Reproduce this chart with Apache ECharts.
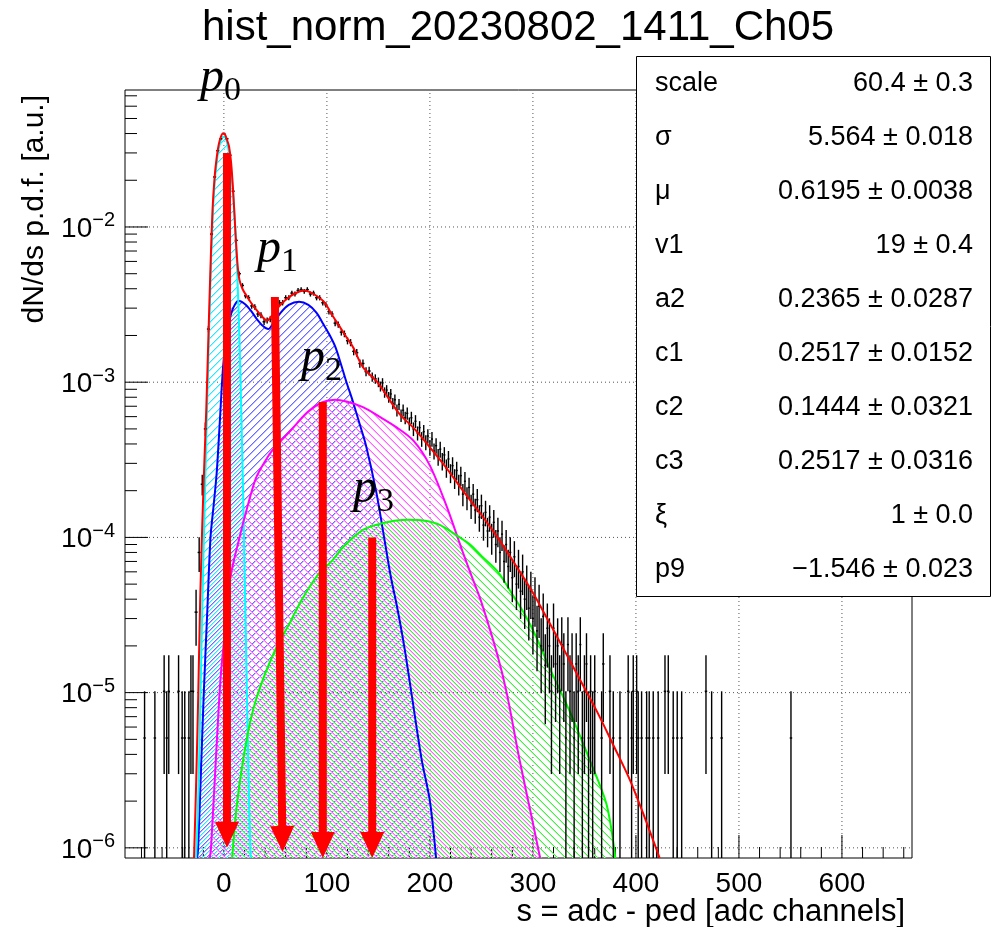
<!DOCTYPE html>
<html>
<head>
<meta charset="utf-8">
<title>hist_norm_20230802_1411_Ch05</title>
<script src="https://cdn.jsdelivr.net/npm/echarts@6/dist/echarts.min.js"></script>
<style>
html,body{margin:0;padding:0;background:#fff;}
#main{width:999px;height:927px;}
</style>
</head>
<body>
<div id="main"></div>
<script>
// axis ranges and ticks
var xMin = -96, xMax = 668;
var yMin = 8.6e-7, yMax = 0.0763;
var xMajor = [0, 100, 200, 300, 400, 500, 600];
var xMinor = [-80, -60, -40, -20, 20, 40, 60, 80, 120, 140, 160, 180, 220, 240, 260, 280, 320, 340, 360, 380,
              420, 440, 460, 480, 520, 540, 560, 580, 620, 640, 660];
var yMajor = [1e-6, 1e-5, 1e-4, 1e-3, 1e-2];
var yMinor = [2e-6, 3e-6, 4e-6, 5e-6, 6e-6, 7e-6, 8e-6, 9e-6,
              2e-5, 3e-5, 4e-5, 5e-5, 6e-5, 7e-5, 8e-5, 9e-5,
              2e-4, 3e-4, 4e-4, 5e-4, 6e-4, 7e-4, 8e-4, 9e-4,
              2e-3, 3e-3, 4e-3, 5e-3, 6e-3, 7e-3, 8e-3, 9e-3,
              2e-2, 3e-2, 4e-2, 5e-2, 6e-2, 7e-2];

// fit components [s, value]
var p0Curve = [[-27,8.6e-7],[-25,2e-6],[-23,8e-6],[-21,3.5e-5],[-19,1.3e-4],[-17,4.5e-4],[-15,1.5e-3],[-13,4.5e-3],
  [-11,1.1e-2],[-9,1.9e-2],[-7,2.6e-2],[-5,3.2e-2],[-3,3.6e-2],[-1,3.8e-2],[1,3.8e-2],[3,3.5e-2],[5,3e-2],[7,2.3e-2],
  [9,1.6e-2],[11,1e-2],[13,5e-3],[15,2e-3],[17,6e-4],[19,1.5e-4],[21,3e-5],[23,6e-6],[25,1.4e-6],[26,8.6e-7]];
var p1Curve = [[-26,8.6e-7],[-25,1e-6],[-22,3.5e-6],[-19.5,1e-5],[-16,3.5e-5],[-13,1e-4],[-10,1.6e-4],[-7,2.6e-4],
  [-4,5.5e-4],[-1,1.2e-3],[2,1.9e-3],[5,2.45e-3],[9,3.0e-3],[14,3.35e-3],[20,3.2e-3],[26,2.9e-3],[32,2.55e-3],
  [38,2.3e-3],[43,2.2e-3],[48,2.4e-3],[55,2.8e-3],[63,3.15e-3],[73,3.3e-3],[82,3.15e-3],[90,2.8e-3],[96,2.4e-3],
  [102,2.05e-3],[108,1.7e-3],[113,1.35e-3],[119,1.0e-3],[125,7.6e-4],[131,5.6e-4],[138,3.9e-4],[148,1.95e-4],
  [155,1.05e-4],[162,5.6e-5],[168,3.6e-5],[175,2e-5],[182,1e-5],[192,3.7e-6],[200,2e-6],[206,8.6e-7]];
var p2Curve = [[-13.6,8.6e-7],[-12.5,1e-6],[-8,3.5e-6],[-3,1.3e-5],[2,2.8e-5],[6.5,5.6e-5],[14.5,9.6e-5],[22,1.5e-4],
  [31,2.4e-4],[40,3.1e-4],[48,3.7e-4],[65,4.9e-4],[81,6.4e-4],[95,7.4e-4],[108,7.7e-4],[119,7.5e-4],[135,6.9e-4],
  [151,6e-4],[168,5.1e-4],[184,4.2e-4],[200,2.9e-4],[216,1.6e-4],[232,8e-5],[242,5.3e-5],[249,4e-5],[265,1.8e-5],
  [274.5,1e-5],[287,3.7e-6],[299,1.55e-6],[307,8.6e-7]];
var p3Curve = [[8,8.6e-7],[13,2e-6],[22.6,5.2e-6],[32,9.4e-6],[48.5,1.8e-5],[65,2.9e-5],[74,3.8e-5],[90,5.6e-5],
  [106,7.2e-5],[116,8.7e-5],[135,1.12e-4],[155,1.24e-4],[178,1.3e-4],[195,1.28e-4],[210,1.2e-4],[229,1.0e-4],
  [239,9e-5],[250,7.6e-5],[266,6e-5],[280,4.3e-5],[292,3.2e-5],[303,2.3e-5],[316,1.45e-5],[329,9.5e-6],
  [336,7.5e-6],[355,3.7e-6],[371.5,1.9e-6],[380,8.6e-7]];
var fitCurve = [[-29,8.6e-7],[-27,2.5e-6],[-25,9e-6],[-23,4e-5],[-21,1.2e-4],[-19,3e-4],[-17,7e-4],[-15,2e-3],
  [-13,5.5e-3],[-11,1.3e-2],[-9,2.1e-2],[-7,2.8e-2],[-5,3.4e-2],[-3,3.8e-2],[-1,4.0e-2],[1,3.95e-2],[3,3.65e-2],
  [5,3.3e-2],[7,2.6e-2],[9,1.7e-2],[11,9.8e-3],[13,6e-3],[15,4.6e-3],[18,4.0e-3],[22,3.6e-3],[27,3.2e-3],
  [32,2.9e-3],[37,2.65e-3],[42,2.5e-3],[47,2.7e-3],[52,3e-3],[60,3.4e-3],[68,3.7e-3],[78,3.9e-3],[87,3.7e-3],
  [97,3.3e-3],[106,2.65e-3],[113,2.25e-3],[119,1.95e-3],[125,1.7e-3],[135,1.25e-3],[150,9.8e-4],[170,6.3e-4],
  [185,5e-4],[200,3.8e-4],[216,2.8e-4],[232,2e-4],[250,1.4e-4],[268,9.5e-5],[284,6.5e-5],[300,4.4e-5],
  [315,2.9e-5],[330,1.9e-5],[346,1.2e-5],[362,7.6e-6],[378,4.6e-6],[394,2.75e-6],[408,1.6e-6],[423,8.6e-7]];

// histogram, core: bin centres from coreStart every coreStep
var coreStart = -27, coreStep = 3;
var coreVals = [
  3.3e-5, 8e-5, 2.2e-4, 5e-4, 2.2e-3, 9e-3, 2.1e-2, 3.1e-2, 3.7e-2, 4.0e-2,
  3.7e-2, 2.9e-2, 1.7e-2, 8.2e-3, 5e-3, 4.2e-3, 3.6e-3, 3.5e-3, 3.1e-3, 3.05e-3,
  2.75e-3, 2.7e-3, 2.45e-3, 2.5e-3, 2.55e-3, 2.8e-3, 2.95e-3, 3.25e-3, 3.25e-3, 3.5e-3,
  3.5e-3, 3.75e-3, 3.7e-3, 3.9e-3, 3.95e-3, 3.85e-3, 3.95e-3, 3.7e-3, 3.75e-3, 3.5e-3,
  3.5e-3, 3.25e-3, 3.15e-3, 2.85e-3, 2.75e-3, 2.4e-3, 2.35e-3, 2.1e-3, 2.05e-3, 1.85e-3,
  1.8e-3, 1.58e-3, 1.55e-3, 1.32e-3, 1.32e-3, 1.17e-3, 1.18e-3, 1.08e-3, 1.05e-3];
// histogram, tail: bin centres from tailStart every tailStep
var tailStart = 150, tailStep = 2;
var tailVals = [
  1.0e-3, 9.4e-4, 9.9e-4, 8.6e-4, 8.9e-4, 8.0e-4, 8.4e-4, 7.3e-4, 7.7e-4, 6.6e-4,
  7.2e-4, 6.1e-4, 6.6e-4, 5.9e-4, 6.3e-4, 5.4e-4, 5.9e-4, 5.0e-4, 5.6e-4, 4.7e-4,
  5.1e-4, 4.3e-4, 4.8e-4, 4.1e-4, 4.5e-4, 3.8e-4, 4.3e-4, 3.6e-4, 3.9e-4, 3.3e-4,
  3.7e-4, 3.1e-4, 3.4e-4, 2.8e-4, 3.2e-4, 2.6e-4, 2.9e-4, 2.4e-4, 2.7e-4, 2.2e-4,
  2.5e-4, 1.9e-4, 2.3e-4, 1.8e-4, 2.1e-4, 1.6e-4, 1.9e-4, 1.5e-4, 1.75e-4, 1.35e-4,
  1.6e-4, 1.2e-4, 1.45e-4, 1.1e-4, 1.35e-4, 1.0e-4, 1.25e-4, 9e-5, 1.1e-4, 8e-5,
  1.05e-4, 7e-5, 9e-5, 6.5e-5, 8e-5, 5.5e-5, 7.5e-5, 5e-5, 6.5e-5, 4.5e-5,
  6e-5, 4e-5, 5e-5, 3.5e-5, 4.5e-5, 3e-5, 4.1e-5, 2.5e-5, 3.6e-5, 2e-5,
  3.1e-5, 1.5e-5, 2.6e-5, 2e-5, 1.02e-5, 2.6e-5, 1.53e-5, 2e-5, 1.02e-5, 2.04e-5,
  1.53e-5, 5.1e-6, 2.04e-5, 1.02e-5, 1.53e-5, 5.1e-6, 1.53e-5, 1.02e-5, 2.04e-5, 5.1e-6,
  1.02e-5, 1.53e-5, 5.1e-6, 1.02e-5, 5.1e-6, 1.02e-5];
// histogram, single low-count bins
var sparseX = [-77, -67, -58, -55.5, -53.5, -44, -40.5, -38, -34, -32, -30,
  366.7, 368.3, 374.8, 378, 384.5, 392.5, 395.8, 397.4, 400.7, 402.2, 405.5, 410.4, 412.9, 416.8,
  421.6, 428.2, 431.4, 436.2, 440.1, 444.4, 468, 473.5, 483.2, 550.5];
var sparseV = [5.1e-6, 5.1e-6, 1.02e-5, 5.1e-6, 1.02e-5, 1.02e-5, 5.1e-6, 5.1e-6, 5.1e-6, 1.02e-5, 1.02e-5,
  5.1e-6, 1.53e-5, 1.02e-5, 5.1e-6, 5.1e-6, 1.02e-5, 5.1e-6, 1.02e-5, 1.02e-5, 5.1e-6, 5.1e-6, 5.1e-6, 5.1e-6, 5.1e-6,
  5.1e-6, 1.02e-5, 1.02e-5, 5.1e-6, 5.1e-6, 5.1e-6, 1.02e-5, 5.1e-6, 5.1e-6, 5.1e-6];
var countUnit = 5.1e-6; // one entry

// red arrows: top x, top y, tip x, tip y
var arrowTopX = [3, 49.5, 96, 144];
var arrowTopY = [0.030, 3.54e-3, 7.45e-4, 1.0e-4];
var arrowTipX = [3, 57, 96, 144];
var arrowTipY = [1.0e-6, 9.4e-7, 8.6e-7, 8.6e-7];

// fit parameters
var statNames = ['scale', '\u03c3', '\u03bc', 'v1', 'a2', 'c1', 'c2', 'c3', '\u03be', 'p9'];
var statValues = ['60.4 \u00b1 0.3', '5.564 \u00b1 0.018', '0.6195 \u00b1 0.0038', '19 \u00b1 0.4',
  '0.2365 \u00b1 0.0287', '0.2517 \u00b1 0.0152', '0.1444 \u00b1 0.0321', '0.2517 \u00b1 0.0316',
  '1 \u00b1 0.0', '\u22121.546 \u00b1 0.023'];

var FONT = "'Liberation Sans', Arial, Helvetica, sans-serif";
var SERIF = "'Liberation Serif', 'DejaVu Serif', serif";

// hatch pattern: 2px diagonal (core + soft edge), shift moves the line inside the tile
function hatch(core, edge, dir, shift){
    var n = 8;
    var c = document.createElement('canvas');
    c.width = n; c.height = n;
    var g = c.getContext('2d');
    for(var i = 0; i < n; i++){
        var j = dir == '/' ? (2*n - 1 - i - shift) % n : (i + shift) % n;
        g.fillStyle = core;
        g.fillRect(i, j, 1, 1);
        g.fillStyle = edge;
        g.fillRect(i, (j + 1) % n, 1, 1);
    }
    return c;
}

// [x, value, half width of bin mark]
var histData = coreVals.map(function(v, i){ return [coreStart + i*coreStep, v, 1.5]; });
tailVals.forEach(function(v, i){ histData.push([tailStart + i*tailStep, v, 1]); });
sparseX.forEach(function(x, i){ histData.push([x, sparseV[i], 1.2]); });

function renderHist(params, api){
    var x = api.value(0), v = api.value(1), hw = api.value(2);
    var err = Math.sqrt(v*countUnit);
    var lo = Math.max(v - err, yMin), hi = Math.min(v + err, yMax);
    var a = api.coord([x, lo]), b = api.coord([x, hi]);
    var l = api.coord([x - hw, v]), r = api.coord([x + hw, v]);
    return {type: 'group', children: [
        {type: 'line', shape: {x1: a[0], y1: a[1], x2: b[0], y2: b[1]}, style: {stroke: '#000', lineWidth: 1.4}},
        {type: 'line', shape: {x1: l[0], y1: l[1], x2: r[0], y2: r[1]}, style: {stroke: '#000', lineWidth: 1.4}}
    ]};
}

function renderArrow(params, api){
    var t = api.coord([api.value(0), api.value(1)]);
    var b = api.coord([api.value(2), api.value(3)]);
    var dx = b[0]-t[0], dy = b[1]-t[1], L = Math.sqrt(dx*dx + dy*dy);
    var ux = dx/L, uy = dy/L, nx = -uy, ny = ux;
    var hl = 26, hw = 12, sw = 4;
    var sx = b[0]-ux*hl, sy = b[1]-uy*hl;
    var pts = [[t[0]+nx*sw, t[1]+ny*sw], [sx+nx*sw, sy+ny*sw], [sx+nx*hw, sy+ny*hw], [b[0], b[1]],
               [sx-nx*hw, sy-ny*hw], [sx-nx*sw, sy-ny*sw], [t[0]-nx*sw, t[1]-ny*sw]];
    return {type: 'polygon', shape: {points: pts}, style: {fill: '#ff0000'}};
}

// dotted grid and ROOT style ticks, kind: 0 vgrid, 1 hgrid, 2 x major, 3 x minor, 4 y major, 5 y minor
var decoData = [];
xMajor.forEach(function(x){ decoData.push([x, yMin, 0]); decoData.push([x, yMin, 2]); });
yMajor.forEach(function(y){ decoData.push([xMin, y, 1]); decoData.push([xMin, y, 4]); });
xMinor.forEach(function(x){ decoData.push([x, yMin, 3]); });
yMinor.forEach(function(y){ decoData.push([xMin, y, 5]); });

function renderDeco(params, api){
    var k = api.value(2);
    var p = api.coord([api.value(0), api.value(1)]);
    if(k == 0){
        var q = api.coord([api.value(0), yMax]);
        return {type: 'line', shape: {x1: p[0], y1: p[1], x2: q[0], y2: q[1]}, style: {stroke: '#555', lineWidth: 1, lineDash: [1, 3]}};
    }
    if(k == 1){
        var q2 = api.coord([xMax, api.value(1)]);
        return {type: 'line', shape: {x1: p[0], y1: p[1], x2: q2[0], y2: q2[1]}, style: {stroke: '#555', lineWidth: 1, lineDash: [1, 3]}};
    }
    if(k == 2 || k == 3){
        var len = k == 2 ? 23 : 11;
        return {type: 'line', shape: {x1: p[0], y1: p[1], x2: p[0], y2: p[1]-len}, style: {stroke: '#000', lineWidth: 1}};
    }
    var len2 = k == 4 ? 23 : 12;
    return {type: 'line', shape: {x1: p[0], y1: p[1], x2: p[0]+len2, y2: p[1]}, style: {stroke: '#000', lineWidth: 1}};
}

function compSeries(name, data, lineColor, core, edge, dir, shift){
    return {
        name: name, type: 'line', data: data, smooth: 0.3, symbol: 'none', z: 2,
        lineStyle: {color: lineColor, width: 2},
        areaStyle: {origin: 'start', color: {image: hatch(core, edge, dir, shift), repeat: 'repeat'}, opacity: 1}
    };
}

var graphics = [
    {type: 'text', x: 518, y: 28, z: 100, style: {text: 'hist_norm_20230802_1411_Ch05', font: '42px ' + FONT, fill: '#000', align: 'center', verticalAlign: 'middle'}},
    {type: 'text', x: 905, y: 912, z: 100, style: {text: 's = adc - ped [adc channels]', font: '31px ' + FONT, fill: '#000', align: 'right', verticalAlign: 'middle'}},
    {type: 'text', x: 35, y: 95, rotation: Math.PI/2, z: 100, style: {text: 'dN/ds p.d.f. [a.u.]', font: '30px ' + FONT, fill: '#000', align: 'right', verticalAlign: 'middle'}},
    {type: 'rect', z: 100, shape: {x: 636.5, y: 56.5, width: 354, height: 540}, style: {fill: '#fff', stroke: '#000', lineWidth: 1}}
];
statNames.forEach(function(n, i){
    var yc = 56 + 54.1*(i + 0.5);
    graphics.push({type: 'text', x: 655, y: yc, z: 101, style: {text: n, font: '27px ' + FONT, fill: '#000', align: 'left', verticalAlign: 'middle'}});
    graphics.push({type: 'text', x: 973, y: yc, z: 101, style: {text: statValues[i], font: '27px ' + FONT, fill: '#000', align: 'right', verticalAlign: 'middle'}});
});
// peak labels p0..p3
var pLabelX = [200, 257, 301, 353];
var pLabelY = [78, 249, 358, 489];
pLabelX.forEach(function(x, i){
    graphics.push({type: 'text', x: x, y: pLabelY[i], z: 60, style: {text: 'p', font: 'italic 48px ' + SERIF, fill: '#000', align: 'left', verticalAlign: 'middle'}});
    graphics.push({type: 'text', x: x + 24, y: pLabelY[i] + 13, z: 60, style: {text: String(i), font: '34px ' + SERIF, fill: '#000', align: 'left', verticalAlign: 'middle'}});
});

var myChart = echarts.init(document.getElementById('main'));
var option = {
    animation: false,
    backgroundColor: '#fff',
    grid: {left: 125, right: 87, top: 90, bottom: 69, show: true, borderColor: '#000', borderWidth: 1, backgroundColor: 'transparent'},
    xAxis: {
        type: 'value', min: xMin, max: xMax,
        axisLine: {show: false}, axisTick: {show: false}, splitLine: {show: false},
        axisLabel: {customValues: xMajor, color: '#000', fontSize: 28, fontFamily: FONT, margin: 12}
    },
    yAxis: {
        type: 'log', logBase: 10, min: yMin, max: yMax,
        axisLine: {show: false}, axisTick: {show: false}, splitLine: {show: false}, minorTick: {show: false},
        axisLabel: {
            customValues: yMajor, margin: 10,
            formatter: function(v){
                var e = Math.round(Math.log(v)/Math.LN10);
                return '{b|10}{e|' + (e < 0 ? '\u2212' : '') + Math.abs(e) + '}';
            },
            rich: {
                b: {fontSize: 28, fontFamily: FONT, color: '#000', lineHeight: 32, verticalAlign: 'bottom'},
                e: {fontSize: 20, fontFamily: FONT, color: '#000', lineHeight: 20, verticalAlign: 'top'}
            }
        }
    },
    series: [
        {type: 'custom', name: 'deco', renderItem: renderDeco, data: decoData, z: 1, silent: true,
         encode: {x: 0, y: 1}},
        compSeries('p1', p1Curve, '#0000ff', '#6a6aff', '#b8b8ff', '/', 0),
        compSeries('p0', p0Curve, '#00ffff', '#20e8ff', '#a8f4ff', '/', 4),
        compSeries('p2', p2Curve, '#ff00ff', '#ff60ff', '#ffb8ff', '\\', 0),
        compSeries('p3', p3Curve, '#00ff00', '#40f040', '#b0f8b0', '\\', 4),
        {type: 'custom', name: 'hist', renderItem: renderHist, data: histData, z: 3, clip: true,
         encode: {x: 0, y: 1}},
        {type: 'line', name: 'fit', data: fitCurve, smooth: 0.3, symbol: 'none', z: 4,
         lineStyle: {color: '#ff0000', width: 2}},
        {type: 'custom', name: 'arrows', renderItem: renderArrow, z: 5,
         data: arrowTopX.map(function(x, i){ return [x, arrowTopY[i], arrowTipX[i], arrowTipY[i]]; }),
         encode: {x: [0, 2], y: [1, 3]}}
    ],
    graphic: graphics
};
myChart.setOption(option);
window.onresize = function(){
    myChart.resize();
};
</script>
</body>
</html>
